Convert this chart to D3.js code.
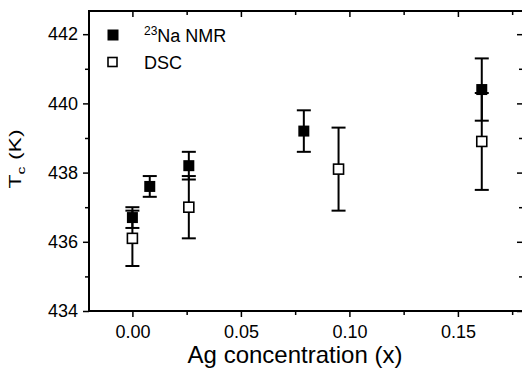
<!DOCTYPE html>
<html>
<head>
<meta charset="utf-8">
<script src="https://cdn.jsdelivr.net/npm/d3@7"></script>
<style>
body { margin: 0; background: #fff; }
text { font-family: Arial, "Liberation Sans", sans-serif; fill: #000; }
</style>
</head>
<body>
<div id="chart"></div>
<script>
var svgWidth = 522;
var svgHeight = 370;

// 23Na NMR (filled squares)
var nmr_x = [0.000, 0.008, 0.026, 0.079, 0.161];
var nmr_tc = [436.7, 437.6, 438.2, 439.2, 440.4];
var nmr_err = [0.3, 0.3, 0.4, 0.6, 0.9];

// DSC (open squares)
var dsc_x = [0.000, 0.026, 0.095, 0.161];
var dsc_tc = [436.1, 437.0, 438.1, 438.9];
var dsc_err = [0.8, 0.9, 1.2, 1.4];

var x_ticks = [0.00, 0.05, 0.10, 0.15];
var x_minor = [-0.025, 0.025, 0.075, 0.125, 0.175];
var y_ticks = [434, 436, 438, 440, 442];
var y_minor = [435, 437, 439, 441];

var nmr = nmr_x.map((d, i) => ({x: d, y: nmr_tc[i], e: nmr_err[i]}));
var dsc = dsc_x.map((d, i) => ({x: d, y: dsc_tc[i], e: dsc_err[i]}));

// plot box (note: "top" is reserved on window)
var pLeft = 89, pRight = 523, pTop = 11, pBottom = 311;

var svg = d3.select("#chart")
	.append("svg")
	.attr("width", svgWidth)
	.attr("height", svgHeight);

var x = d3.scaleLinear().domain([-0.02, 0.18]).range([pLeft, pRight]);
var y = d3.scaleLinear().domain([434, 442.67]).range([pBottom, pTop]);

function styleAxis(g, labels) {
	g.select(".domain").remove();
	g.selectAll("line").attr("stroke", "#000").attr("stroke-width", 1.5);
	g.selectAll("text").style("font-size", "18px");
	if (!labels) g.selectAll("text").remove();
}

var xm = x_minor.filter(v => x(v) >= pLeft);

// major + minor ticks, outward on bottom/left, inward on top/right
svg.append("g").attr("transform", "translate(0," + pBottom + ")")
	.call(d3.axisBottom(x).tickValues(x_ticks).tickSize(6).tickPadding(8).tickFormat(d3.format(".2f")))
	.call(g => styleAxis(g, true));
svg.append("g").attr("transform", "translate(0," + pBottom + ")")
	.call(d3.axisBottom(x).tickValues(xm).tickSize(4))
	.call(g => styleAxis(g, false));
svg.append("g").attr("transform", "translate(0," + pTop + ")")
	.call(d3.axisBottom(x).tickValues(x_ticks).tickSize(6))
	.call(g => styleAxis(g, false));
svg.append("g").attr("transform", "translate(0," + pTop + ")")
	.call(d3.axisBottom(x).tickValues(xm).tickSize(4))
	.call(g => styleAxis(g, false));

svg.append("g").attr("transform", "translate(" + pLeft + ",0)")
	.call(d3.axisLeft(y).tickValues(y_ticks).tickSize(6).tickPadding(5).tickFormat(d3.format("d")))
	.call(g => styleAxis(g, true));
svg.append("g").attr("transform", "translate(" + pLeft + ",0)")
	.call(d3.axisLeft(y).tickValues(y_minor).tickSize(4))
	.call(g => styleAxis(g, false));
svg.append("g").attr("transform", "translate(" + pRight + ",0)")
	.call(d3.axisLeft(y).tickValues(y_ticks).tickSize(6))
	.call(g => styleAxis(g, false));
svg.append("g").attr("transform", "translate(" + pRight + ",0)")
	.call(d3.axisLeft(y).tickValues(y_minor).tickSize(4))
	.call(g => styleAxis(g, false));

// frame
svg.append("rect")
	.attr("x", pLeft).attr("y", pTop)
	.attr("width", pRight - pLeft).attr("height", pBottom - pTop)
	.attr("fill", "none").attr("stroke", "#000").attr("stroke-width", 2);

// error bars
var capW = 7;
function errorBars(data) {
	var g = svg.append("g").attr("stroke", "#000").attr("stroke-width", 2);
	g.selectAll(".v").data(data).enter().append("line")
		.attr("x1", d => x(d.x)).attr("x2", d => x(d.x))
		.attr("y1", d => y(d.y + d.e)).attr("y2", d => y(d.y - d.e));
	g.selectAll(".t").data(data).enter().append("line")
		.attr("x1", d => x(d.x) - capW).attr("x2", d => x(d.x) + capW)
		.attr("y1", d => y(d.y + d.e)).attr("y2", d => y(d.y + d.e));
	g.selectAll(".b").data(data).enter().append("line")
		.attr("x1", d => x(d.x) - capW).attr("x2", d => x(d.x) + capW)
		.attr("y1", d => y(d.y - d.e)).attr("y2", d => y(d.y - d.e));
}
errorBars(dsc);
errorBars(nmr);

var sz = 10;
svg.selectAll(".dsc").data(dsc).enter().append("rect")
	.attr("x", d => x(d.x) - sz / 2).attr("y", d => y(d.y) - sz / 2)
	.attr("width", sz).attr("height", sz)
	.attr("fill", "#fff").attr("stroke", "#000").attr("stroke-width", 1.6);
svg.selectAll(".nmr").data(nmr).enter().append("rect")
	.attr("x", d => x(d.x) - sz / 2 - 0.5).attr("y", d => y(d.y) - sz / 2 - 0.5)
	.attr("width", sz + 1).attr("height", sz + 1)
	.attr("fill", "#000");

// legend
svg.append("rect").attr("x", 107.5).attr("y", 29.5).attr("width", 11).attr("height", 11).attr("fill", "#000");
svg.append("rect").attr("x", 108).attr("y", 57.5).attr("width", 9).attr("height", 9)
	.attr("fill", "#fff").attr("stroke", "#000").attr("stroke-width", 1.6);
var lt = svg.append("text").attr("x", 144).attr("y", 42).style("font-size", "18px");
lt.append("tspan").text("23").style("font-size", "12px").attr("dy", -7);
lt.append("tspan").text("Na NMR").attr("dy", 7);
svg.append("text").attr("x", 144).attr("y", 69).style("font-size", "18px").text("DSC");

// axis titles
svg.append("text")
	.attr("x", (pLeft + pRight) / 2 - 11).attr("y", 363)
	.attr("text-anchor", "middle")
	.style("font-size", "24px")
	.text("Ag concentration (x)");

// y title is squeezed across in the original
var yt = svg.append("text")
	.attr("transform", "translate(21,159) rotate(-90) scale(1,0.7)")
	.attr("text-anchor", "middle")
	.style("font-size", "23px");
yt.append("tspan").text("T");
yt.append("tspan").text("c").style("font-size", "16px").attr("dy", 5);
yt.append("tspan").text(" (K)").attr("dy", -5);
</script>
</body>
</html>
